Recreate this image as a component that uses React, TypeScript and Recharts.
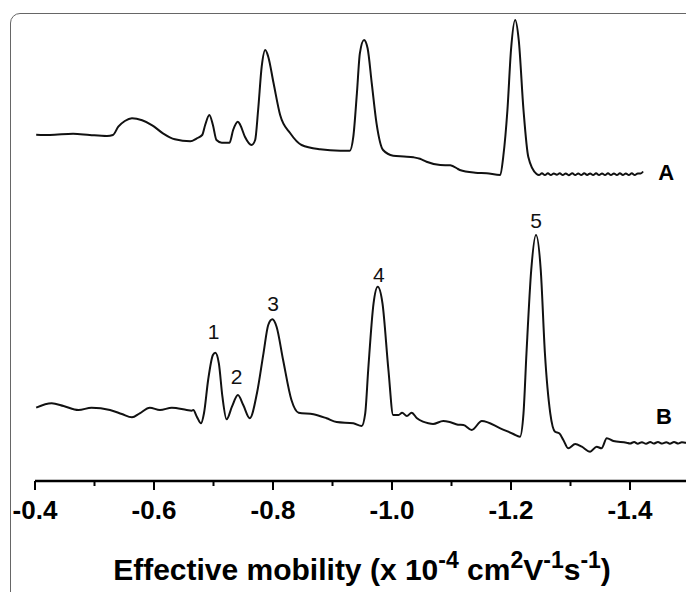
import React from 'react';
import { LineChart, Line, XAxis, YAxis, ReferenceDot } from 'recharts';

// Effective mobility (x 10^-4 cm2 V-1 s-1) and detector signal (arbitrary units)
const mobilityA = [
  -0.402, -0.425, -0.464, -0.492, -0.521, -0.531, -0.540, -0.551, -0.563, -0.580,
  -0.597, -0.615, -0.635, -0.661, -0.672, -0.681, -0.686, -0.693, -0.699, -0.705,
  -0.714, -0.727, -0.733, -0.741, -0.745, -0.753, -0.764, -0.770, -0.775, -0.781,
  -0.787, -0.792, -0.801, -0.812, -0.829, -0.848, -0.879, -0.913, -0.929, -0.935,
  -0.941, -0.946, -0.953, -0.959, -0.966, -0.974, -0.985, -1.002, -1.020, -1.036,
  -1.047, -1.058, -1.081, -1.098, -1.111, -1.114, -1.140, -1.159, -1.182, -1.187,
  -1.194, -1.200, -1.207, -1.213, -1.221, -1.229, -1.243, -1.247, -1.252, -1.257,
  -1.262, -1.267, -1.272, -1.277, -1.282, -1.287, -1.292, -1.297, -1.303, -1.308,
  -1.313, -1.318, -1.323, -1.328, -1.333, -1.338, -1.343, -1.348, -1.353, -1.358,
  -1.363, -1.368, -1.373, -1.378, -1.383, -1.388, -1.393, -1.398, -1.403, -1.408,
  -1.413, -1.418, -1.422,
];
const signalA = [
  346.3, 346.0, 347.3, 346.0, 345.0, 346.0, 354.3, 360.0, 362.7, 360.7,
  355.7, 347.7, 341.7, 339.7, 342.7, 346.0, 356.0, 366.0, 356.0, 341.0,
  338.3, 338.3, 351.0, 359.3, 356.0, 344.0, 336.0, 341.0, 371.0, 414.3,
  431.0, 424.3, 397.7, 366.0, 347.7, 336.0, 331.7, 330.3, 330.3, 344.3,
  387.7, 427.7, 441.0, 432.7, 397.7, 357.7, 331.0, 325.3, 324.5, 323.7,
  322.3, 319.3, 316.0, 315.7, 312.0, 311.0, 308.3, 307.7, 306.0, 324.3,
  371.0, 431.0, 461.0, 441.0, 371.0, 324.3, 307.0, 306.0, 307.7, 306.0,
  307.7, 306.0, 307.5, 306.2, 307.7, 306.0, 307.5, 305.8, 307.7, 306.0,
  307.4, 306.0, 307.7, 306.1, 307.6, 306.0, 307.7, 305.9, 307.5, 306.0,
  307.7, 306.0, 307.6, 306.0, 307.7, 306.1, 307.5, 306.0, 307.7, 306.0,
  307.6, 307.5, 309.5,
];

const mobilityB = [
  -0.402, -0.428, -0.448, -0.473, -0.495, -0.526, -0.546, -0.563, -0.576, -0.593,
  -0.610, -0.630, -0.655, -0.663, -0.666, -0.672, -0.679, -0.684, -0.691, -0.699,
  -0.703, -0.709, -0.715, -0.722, -0.731, -0.741, -0.750, -0.761, -0.773, -0.784,
  -0.792, -0.799, -0.806, -0.817, -0.831, -0.843, -0.868, -0.890, -0.907, -0.935,
  -0.949, -0.955, -0.960, -0.969, -0.976, -0.984, -0.994, -1.002, -1.011, -1.017,
  -1.025, -1.033, -1.042, -1.052, -1.061, -1.069, -1.086, -1.097, -1.111, -1.120,
  -1.134, -1.151, -1.182, -1.204, -1.215, -1.221, -1.226, -1.234, -1.242, -1.250,
  -1.257, -1.266, -1.274, -1.281, -1.288, -1.296, -1.308, -1.319, -1.333, -1.344,
  -1.352, -1.361, -1.372, -1.394, -1.400, -1.407, -1.413, -1.420, -1.427, -1.434,
  -1.440, -1.447, -1.454, -1.461, -1.467, -1.474, -1.481, -1.487, -1.494, -1.501,
];
const signalB = [
  73.3, 77.7, 75.0, 71.0, 73.3, 71.0, 67.0, 63.7, 67.7, 73.3,
  71.0, 73.3, 71.0, 70.3, 71.0, 64.3, 57.7, 67.7, 101.0, 126.0,
  128.3, 117.7, 84.3, 61.7, 74.3, 86.0, 76.0, 62.7, 87.7, 127.7,
  156.0, 161.7, 154.3, 121.0, 81.0, 68.3, 66.7, 62.7, 59.0, 57.7,
  55.0, 67.7, 111.0, 177.7, 194.3, 177.7, 111.0, 66.0, 66.0, 68.3,
  65.0, 68.3, 62.7, 59.3, 57.7, 57.0, 60.0, 59.0, 56.3, 56.0,
  51.0, 60.0, 52.7, 47.0, 44.3, 67.7, 127.7, 211.0, 246.0, 211.0,
  127.7, 67.7, 49.3, 47.7, 41.0, 32.7, 37.0, 34.3, 29.3, 34.3,
  32.7, 42.7, 40.0, 38.3, 37.5, 39.0, 37.3, 38.8, 37.2, 39.0,
  37.5, 39.0, 37.4, 38.8, 37.3, 39.0, 37.5, 38.8, 38.3, 38.5,
];

const peakLabels = ['1', '2', '3', '4', '5'];
const peakLabelX = [-0.700, -0.739, -0.800, -0.978, -1.242];
const peakLabelY = [141.7, 97.0, 170.3, 199.3, 253.3];

const traceNames = ['A', 'B'];
const traceNameX = [-1.461, -1.457];
const traceNameY = [301.0, 57.0];

const xTicks = [-0.4, -0.5, -0.6, -0.7, -0.8, -0.9, -1.0, -1.1, -1.2, -1.3, -1.4];

const dataA = mobilityA.map((x, i) => ({ x, y: signalA[i] }));
const dataB = mobilityB.map((x, i) => ({ x, y: signalB[i] }));

const FONT = "'Liberation Sans', Arial, Helvetica, sans-serif";

const Tick = (props: any) => {
  const { x, y, payload } = props;
  const v: number = payload.value;
  const major = Math.abs(Math.round(v * 10)) % 2 === 0;
  return (
    <g>
      <line x1={x} x2={x} y1={y} y2={y + (major ? 9 : 5)} stroke="#000" strokeWidth={2} />
      {major && (
        <text x={x} y={y + 38} textAnchor="middle" fontSize={26} fontWeight="bold" fontFamily={FONT} fill="#000">
          {v.toFixed(1)}
        </text>
      )}
    </g>
  );
};

const Title = () => (
  <text x={362} y={580} textAnchor="middle" fontSize={30} fontWeight="bold" fontFamily={FONT} fill="#000">
    Effective mobility (x 10
    <tspan dy={-12} fontSize={23}>-4</tspan>
    <tspan dy={12}> cm</tspan>
    <tspan dy={-12} fontSize={23}>2</tspan>
    <tspan dy={12}>V</tspan>
    <tspan dy={-12} fontSize={23}>-1</tspan>
    <tspan dy={12}>s</tspan>
    <tspan dy={-12} fontSize={23}>-1</tspan>
    <tspan dy={12}>)</tspan>
  </text>
);

export default function App() {
  return (
    <div style={{ position: 'absolute', left: 0, top: 0, width: 686, height: 592, overflow: 'hidden', background: '#fff' }}>
      <div
        style={{
          position: 'absolute', left: 10, top: 13, width: 720, height: 640,
          border: '1.6px solid #666', borderRadius: 10, boxSizing: 'border-box',
        }}
      />
      <div style={{ position: 'absolute', left: 0, top: 0 }}>
        <LineChart width={700} height={592} margin={{ top: 0, right: 10.5, bottom: 0, left: 35 }}>
          <XAxis
            type="number"
            dataKey="x"
            domain={[-1.5, -0.4]}
            reversed
            allowDataOverflow
            ticks={xTicks}
            interval={0}
            tickSize={0}
            tickMargin={0}
            tickLine={false}
            tick={<Tick />}
            axisLine={{ stroke: '#000', strokeWidth: 2.5 }}
            height={111}
            label={{ content: () => <Title /> }}
          />
          <YAxis hide type="number" domain={[0, 481]} allowDataOverflow />
          <Line data={dataA} dataKey="y" type="monotone" stroke="#111" strokeWidth={2} dot={false} isAnimationActive={false} />
          <Line data={dataB} dataKey="y" type="monotone" stroke="#111" strokeWidth={2} dot={false} isAnimationActive={false} />
          {peakLabels.map((t, i) => (
            <ReferenceDot
              key={'p' + t}
              x={peakLabelX[i]}
              y={peakLabelY[i]}
              r={0}
              shape={(p: any) => (
                <text x={p.cx} y={p.cy} textAnchor="middle" fontSize={21} fontFamily={FONT} fill="#111">{t}</text>
              )}
            />
          ))}
          {traceNames.map((t, i) => (
            <ReferenceDot
              key={'t' + t}
              x={traceNameX[i]}
              y={traceNameY[i]}
              r={0}
              shape={(p: any) => (
                <text x={p.cx} y={p.cy} textAnchor="middle" fontSize={22} fontWeight="bold" fontFamily={FONT} fill="#000">{t}</text>
              )}
            />
          ))}
        </LineChart>
      </div>
    </div>
  );
}
